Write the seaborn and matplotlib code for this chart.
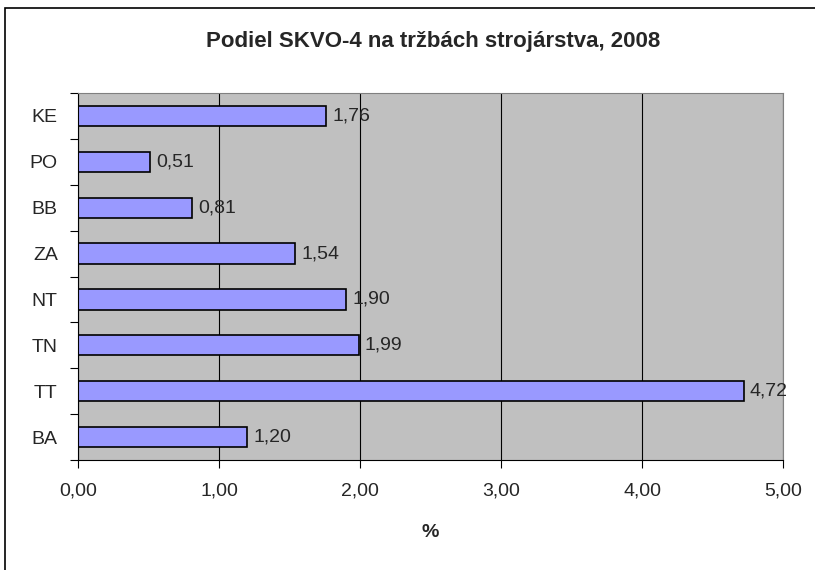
import matplotlib
matplotlib.use("Agg")
import matplotlib.pyplot as plt
import seaborn as sns
import pandas as pd
from matplotlib.patches import Rectangle

regions = ["KE", "PO", "BB", "ZA", "NT", "TN", "TT", "BA"]
shares = [1.76, 0.51, 0.81, 1.54, 1.90, 1.99, 4.72, 1.20]
x_ticks = [0, 1, 2, 3, 4, 5]

df = pd.DataFrame({"region": regions, "share": shares})

sns.set_style("white")
plt.rcParams["font.family"] = ["Liberation Sans", "DejaVu Sans"]

fig = plt.figure(figsize=(8.15, 5.7), dpi=100)
ax = fig.add_axes([78 / 815, 1 - 460 / 570, 705 / 815, 367 / 570])

sns.barplot(data=df, x="share", y="region", order=regions, orient="h",
            color="#9999FF", edgecolor="black", linewidth=1.2,
            width=0.44, saturation=1, ax=ax)

ax.set_facecolor("#C0C0C0")
ax.set_xlim(0, 5)
ax.set_ylim(len(regions) - 0.5, -0.5)
ax.set_xticks(x_ticks)
ax.set_xticklabels([f"{v:.2f}".replace(".", ",") for v in x_ticks], fontsize=14)
ax.xaxis.grid(True, color="black", linewidth=0.8)
ax.set_axisbelow(True)

# category ticks sit between bars, like Excel
ax.set_yticks(range(len(regions)))
ax.set_yticklabels(regions, fontsize=14)
ax.set_yticks([i - 0.5 for i in range(len(regions) + 1)], minor=True)
ax.tick_params(axis="y", which="major", left=False, pad=11)
ax.tick_params(axis="y", which="minor", left=True, length=6, width=0.8,
               color="black")
ax.tick_params(axis="x", bottom=True, length=6, width=0.8, color="black",
               pad=10)

for side in ["top", "right"]:
    ax.spines[side].set_color("#808080")
    ax.spines[side].set_linewidth(0.8)
for side in ["left", "bottom"]:
    ax.spines[side].set_color("black")
    ax.spines[side].set_linewidth(0.8)

for i, v in enumerate(shares):
    ax.text(v + 0.045, i, f"{v:.2f}".replace(".", ","), va="center",
            ha="left", fontsize=14)

ax.set_ylabel("")
ax.set_xlabel("%", fontsize=14, fontweight="bold", labelpad=18)
fig.text(433 / 815, 1 - 42 / 570, "Podiel SKVO-4 na tržbách strojárstva, 2008",
         ha="center", va="center", fontsize=16, fontweight="bold")

fig.patches.append(Rectangle((5 / 815, -0.05), 1.1, 1 - 8 / 570 + 0.05,
                             transform=fig.transFigure, fill=False,
                             edgecolor="black", linewidth=1.2))

fig.savefig("out.png", dpi=100)
